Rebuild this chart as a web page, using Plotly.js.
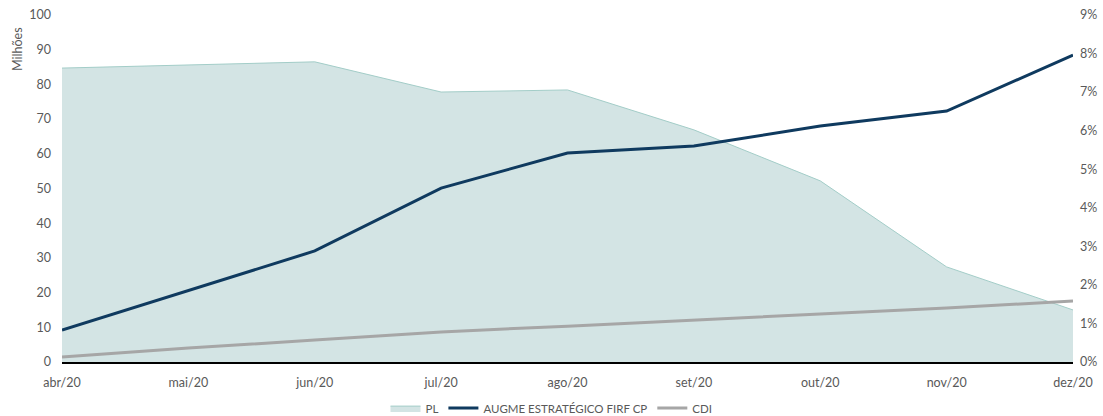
<!DOCTYPE html>
<html>
<head>
<meta charset="utf-8">
<script src="https://cdn.plot.ly/plotly-3.0.1.min.js"></script>
<style>html,body{margin:0;padding:0;background:#fff;}#chart{width:1103px;height:416px;}</style>
</head>
<body>
<div id="chart"></div>
<script>
const months = ["abr/20","mai/20","jun/20","jul/20","ago/20","set/20","out/20","nov/20","dez/20"];
const plMilhoes = [84.7, 85.7, 86.5, 77.8, 78.4, 66.9, 52.2, 27.4, 15.0];
const augme = [0.0083, 0.0185, 0.0288, 0.0451, 0.0542, 0.0560, 0.0612, 0.0651, 0.0796];
const cdi = [0.0013, 0.0036, 0.0057, 0.0078, 0.0093, 0.0109, 0.0124, 0.0140, 0.0158];

const font = {family: "Lato, 'Open Sans', sans-serif", size: 12.5, color: "#595959"};

const traces = [
  {x: months, y: plMilhoes, name: "PL", type: "scatter", mode: "lines",
   fill: "tozeroy", fillcolor: "#d3e4e4", line: {color: "#a3cdc8", width: 1}, yaxis: "y"},
  {x: months, y: augme, name: "AUGME ESTRATÉGICO FIRF CP", type: "scatter", mode: "lines",
   line: {color: "#0f3a5f", width: 3}, yaxis: "y2"},
  {x: months, y: cdi, name: "CDI", type: "scatter", mode: "lines",
   line: {color: "#a6a6a6", width: 3}, yaxis: "y2"}
];

const layout = {
  width: 1103, height: 416,
  margin: {l: 62, r: 30, t: 15, b: 54, autoexpand: false},
  paper_bgcolor: "#fff", plot_bgcolor: "#fff",
  font: font,
  showlegend: true,
  legend: {orientation: "h", x: 0.5, xanchor: "center", xref: "container",
           y: 0.019, yanchor: "middle", yref: "container", bgcolor: "rgba(0,0,0,0)",
           font: {family: font.family, size: 11.5, color: "#595959"}, itemwidth: 30, tracegroupgap: 0},
  xaxis: {type: "category", range: [0, 8], showgrid: false, zeroline: false,
          showline: true, linecolor: "#000", linewidth: 1.5, ticks: "", tickfont: font,
          ticklabelstandoff: 8},
  yaxis: {range: [0, 100], dtick: 10, showgrid: false, zeroline: false, showline: false,
          ticks: "", tickfont: font, ticklabelstandoff: 10},
  yaxis2: {range: [0, 0.09], dtick: 0.01, tickformat: ".0%", overlaying: "y", side: "right",
           showgrid: false, zeroline: false, showline: false, ticks: "", tickfont: font,
           ticklabelstandoff: 6},
  annotations: [{text: "Milhões", xref: "paper", yref: "paper", x: -0.044, y: 0.97,
                 xanchor: "center", yanchor: "top", textangle: -90, showarrow: false,
                 font: font}]
};

Plotly.newPlot("chart", traces, layout, {displayModeBar: false, staticPlot: true});
</script>
</body>
</html>
